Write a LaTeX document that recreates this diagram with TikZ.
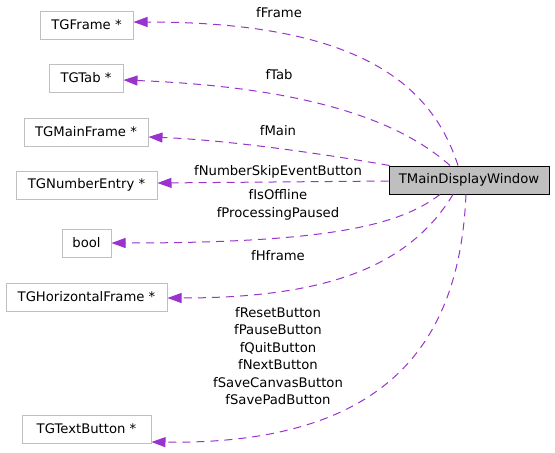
\documentclass[tikz,border=0pt]{standalone}
\usepackage{fontspec}
\setmainfont{DejaVu Sans}
\usetikzlibrary{arrows.meta}
\definecolor{edgec}{HTML}{9A32CD}
\definecolor{boxc}{HTML}{BFBFBF}
\tikzset{
  box/.style={draw=boxc, line width=1pt, fill=white, inner sep=0pt, minimum height=28pt, font=\fontsize{13.2}{17.4}\selectfont},
  mainbox/.style={draw=black, line width=1pt, fill=boxc, inner sep=0pt, minimum height=28pt, minimum width=160pt, font=\fontsize{13.2}{17.4}\selectfont},
  edge/.style={draw=edgec, line width=1pt, dash pattern=on 8pt off 6pt, -{Triangle[length=14pt,width=10pt,fill=edgec]}},
  lbl/.style={inner sep=0pt, align=center, font=\fontsize{13.2}{17.4}\selectfont}
}
\begin{document}
\begin{tikzpicture}[x=1pt,y=-1pt]
\useasboundingbox (0,0) rectangle (555,453);
\node[mainbox] (main) at (469,180) {TMainDisplayWindow};
\node[box, minimum width=93pt] (frame) at (86.5,25) {TGFrame *};
\node[box, minimum width=74pt] (tab) at (86,78) {TGTab *};
\node[box, minimum width=124pt] (mframe) at (86,132) {TGMainFrame *};
\node[box, minimum width=141pt] (numentry) at (86.5,185) {TGNumberEntry *};
\node[box, minimum width=49pt] (bool) at (86.5,243) {bool};
\node[box, minimum width=161pt] (hframe) at (86.5,297) {TGHorizontalFrame *};
\node[box, minimum width=129pt] (tbutton) at (86.5,429) {TGTextButton *};

\draw[edge] ([xshift=-11pt]main.north) .. controls (432,85) and (360,22) .. ([yshift=3pt]frame.east);
\draw[edge] ([xshift=-19pt]main.north) .. controls (410,130) and (330,88) .. ([yshift=-2pt]tab.east);
\draw[edge] ([xshift=1pt]main.north west) .. controls (330,155) and (230,140) .. ([yshift=-5pt]mframe.east);
\draw[edge] ([yshift=-1pt]main.west) -- ([yshift=2pt]numentry.east);
\draw[edge] ([xshift=-29pt]main.south) .. controls (400,225) and (330,243) .. (bool.east);
\draw[edge] ([xshift=-16pt]main.south) .. controls (410,265) and (330,298) .. ([yshift=-1pt]hframe.east);
\draw[edge] ([xshift=-3pt]main.south) .. controls (460,330) and (400,445) .. ([yshift=-13pt]tbutton.east);

\node[lbl] (l1) at (279,13) {fFrame};
\node[lbl] (l2) at (279,75) {fTab};
\node[lbl] (l3) at (278,131) {fMain};
\node[lbl] (l4) at (278,172) {fNumberSkipEventButton};
\node[lbl] (l5) at (278,205) {fIsOffline\\fProcessingPaused};
\node[lbl] (l6) at (278,256) {fHframe};
\node[lbl] (l7) at (278,356) {fResetButton\\fPauseButton\\fQuitButton\\fNextButton\\fSaveCanvasButton\\fSavePadButton};
\end{tikzpicture}
\end{document}
